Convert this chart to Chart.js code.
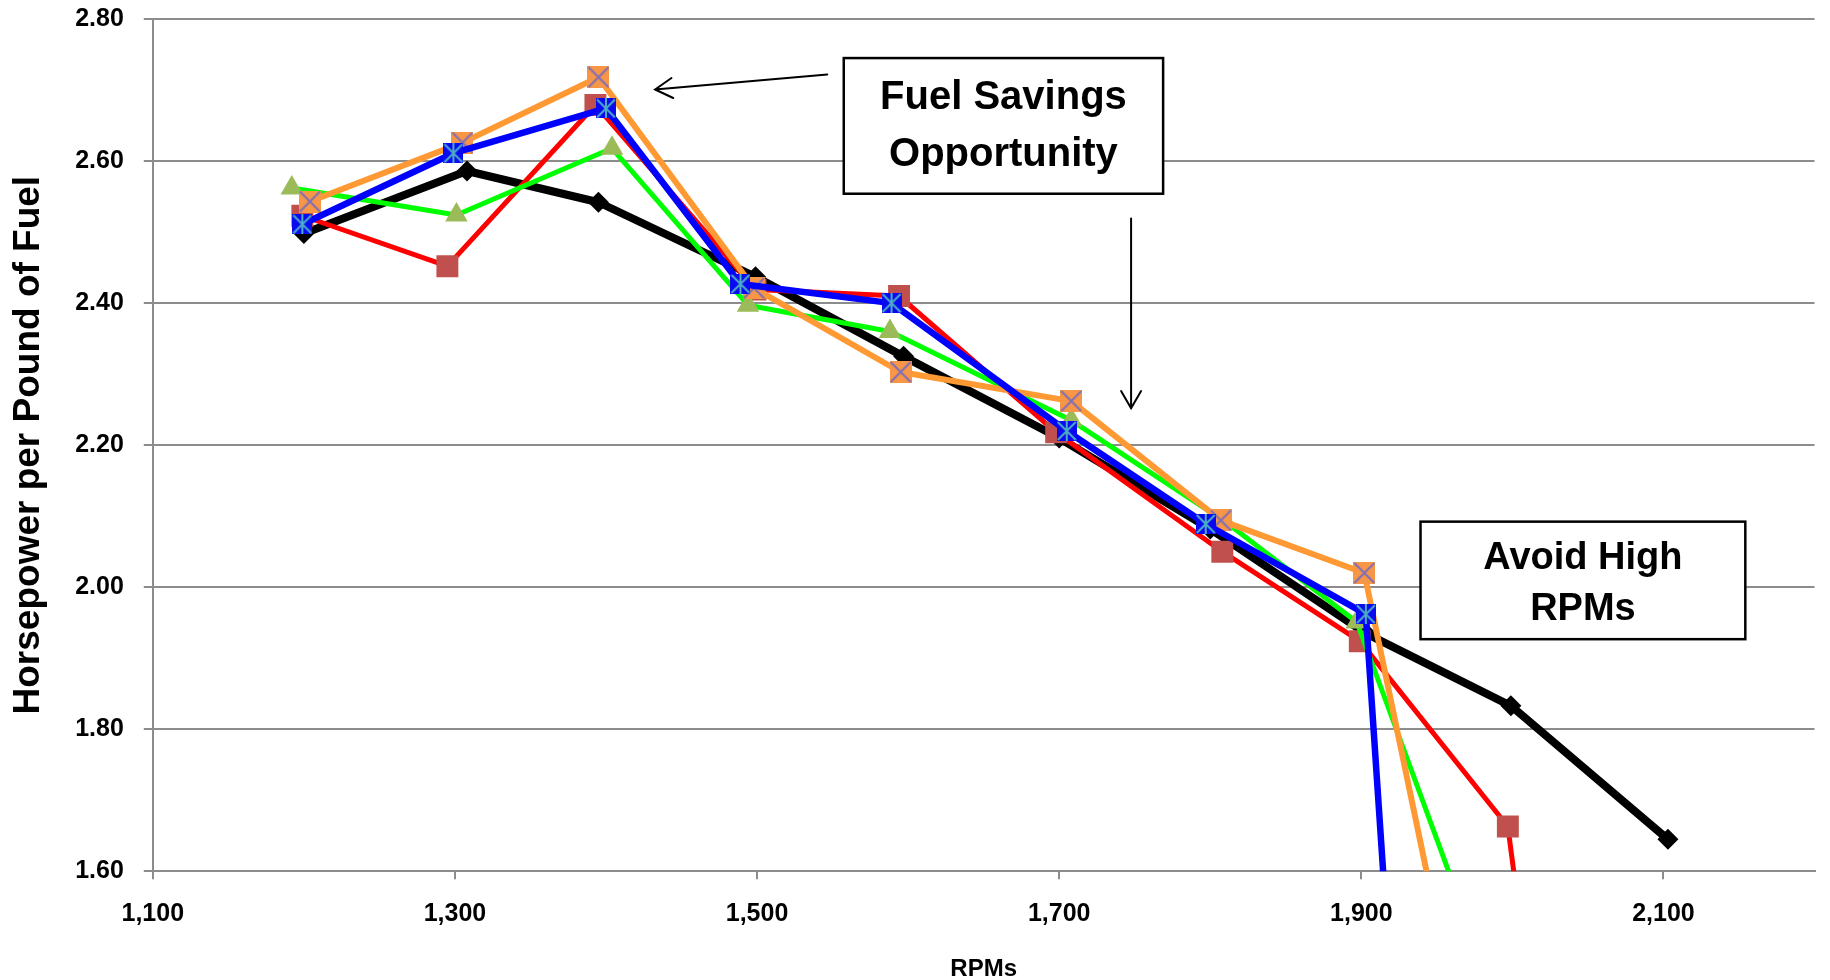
<!DOCTYPE html>
<html>
<head>
<meta charset="utf-8">
<title>Horsepower per Pound of Fuel vs RPM</title>
<script src="https://cdn.jsdelivr.net/npm/chart.js@4.4.1/dist/chart.umd.min.js"></script>
<style>
  html, body { margin: 0; padding: 0; background: #ffffff; }
  #wrap { width: 1830px; height: 980px; position: relative; }
</style>
</head>
<body>
<div id="wrap"><canvas id="chart"></canvas></div>
<script>
// Axis tick values
const rpmTicks = [1100, 1300, 1500, 1700, 1900, 2100];
const hpTicks = [1.6, 1.8, 2.0, 2.2, 2.4, 2.6, 2.8];

// Engine test runs: RPM readings and horsepower produced per pound of fuel
const blackRpm = [1200, 1308, 1395, 1499, 1597, 1700, 1800, 1903, 1999, 2103];
const blackHp  = [2.498, 2.586, 2.542, 2.437, 2.325, 2.210, 2.082, 1.935, 1.833, 1.645];

const redRpm = [1199, 1295, 1393, 1499, 1594, 1698, 1808, 1899, 1997, 2100];
const redHp  = [2.523, 2.452, 2.679, 2.419, 2.410, 2.218, 2.050, 1.924, 1.663, 0];

const greenRpm = [1192, 1301, 1404, 1494, 1588, 1708, 1810, 1897, 2235];
const greenHp  = [2.562, 2.524, 2.618, 2.397, 2.360, 2.235, 2.092, 1.951, 0];

const orangeRpm = [1204, 1305, 1395, 1498, 1595, 1708, 1807, 1902, 2100];
const orangeHp  = [2.543, 2.626, 2.718, 2.421, 2.303, 2.262, 2.094, 2.020, 0];

const blueRpm = [1199, 1299, 1400, 1489, 1589, 1705, 1797, 1903, 1965];
const blueHp  = [2.511, 2.611, 2.674, 2.427, 2.400, 2.220, 2.089, 1.962, 0];

// Callout boxes and arrows, placed in axis units
const callouts = [
  { x0: 1557.4, x1: 1768.8, y0: 2.745, y1: 2.554, size: 40,
    lines: ['Fuel Savings', 'Opportunity'], lineY: [2.689, 2.609] },
  { x0: 1939.2, x1: 2154.2, y0: 2.0923, y1: 1.9268, size: 38,
    lines: ['Avoid High', 'RPMs'], lineY: [2.0406, 1.9689] }
];
const arrows = [
  { from: [1546.5, 2.722], to: [1432.5, 2.7007] },
  { from: [1747.6, 2.519], to: [1747.6, 2.2518] }
];

const FONT = '"Liberation Sans", Arial, sans-serif';
const GRID = '#8c8c8c';

function toPoints(xs, ys) {
  return xs.map((x, i) => ({ x: x, y: ys[i] }));
}

// Square marker with crossing strokes (X, optionally with a vertical bar)
function markerCanvas(size, fill, stroke, withBar) {
  const c = document.createElement('canvas');
  c.width = size; c.height = size;
  const g = c.getContext('2d');
  g.fillStyle = fill;
  g.fillRect(0, 0, size, size);
  g.strokeStyle = stroke;
  g.lineWidth = 2;
  g.beginPath();
  g.moveTo(1, 1); g.lineTo(size - 1, size - 1);
  g.moveTo(size - 1, 1); g.lineTo(1, size - 1);
  if (withBar) { g.moveTo(size / 2, 0); g.lineTo(size / 2, size); }
  g.stroke();
  return c;
}

const xMarker = markerCanvas(22, '#F79646', '#7F6FB8', false);
const starMarker = markerCanvas(20, '#0a0af0', '#4BACC6', true);

const base = {
  showLine: true,
  tension: 0,
  borderJoinStyle: 'round',
  pointBorderWidth: 0,
  pointHoverRadius: 0,
  clip: 0
};

// Lower "order" is drawn on top
const datasets = [
  Object.assign({}, base, {
    label: 'Blue', data: toPoints(blueRpm, blueHp), order: 0,
    borderColor: '#0000FF', borderWidth: 6.5,
    pointStyle: starMarker, pointRadius: 10, pointBackgroundColor: '#0a0af0'
  }),
  Object.assign({}, base, {
    label: 'Orange', data: toPoints(orangeRpm, orangeHp), order: 1,
    borderColor: '#FF9933', borderWidth: 6,
    pointStyle: xMarker, pointRadius: 11, pointBackgroundColor: '#F79646'
  }),
  Object.assign({}, base, {
    label: 'Green', data: toPoints(greenRpm, greenHp), order: 2,
    borderColor: '#00FF00', borderWidth: 5,
    pointStyle: 'triangle', pointRadius: 13, pointBackgroundColor: '#9BBB59'
  }),
  Object.assign({}, base, {
    label: 'Red', data: toPoints(redRpm, redHp), order: 3,
    borderColor: '#FF0000', borderWidth: 5,
    pointStyle: 'rect', pointRadius: 15.5, pointBackgroundColor: '#C0504D'
  }),
  Object.assign({}, base, {
    label: 'Black', data: toPoints(blackRpm, blackHp), order: 4,
    borderColor: '#000000', borderWidth: 8,
    pointStyle: 'rectRot', pointRadius: 10.5, pointBackgroundColor: '#000000'
  })
];

// Draws the text callouts and pointer arrows
const calloutPlugin = {
  id: 'callouts',
  afterDatasetsDraw(chart) {
    const ctx = chart.ctx;
    const xs = chart.scales.x, ys = chart.scales.y;
    ctx.save();
    callouts.forEach(b => {
      const l = xs.getPixelForValue(b.x0), r = xs.getPixelForValue(b.x1);
      const t = ys.getPixelForValue(b.y0), btm = ys.getPixelForValue(b.y1);
      ctx.fillStyle = '#ffffff';
      ctx.fillRect(l, t, r - l, btm - t);
      ctx.lineWidth = 2.5;
      ctx.strokeStyle = '#000000';
      ctx.strokeRect(l, t, r - l, btm - t);
      ctx.fillStyle = '#000000';
      ctx.font = 'bold ' + b.size + 'px ' + FONT;
      ctx.textAlign = 'center';
      ctx.textBaseline = 'middle';
      b.lines.forEach((s, i) => ctx.fillText(s, (l + r) / 2, ys.getPixelForValue(b.lineY[i])));
    });
    ctx.strokeStyle = '#000000';
    ctx.lineWidth = 2;
    ctx.lineCap = 'round';
    arrows.forEach(a => {
      const x1 = xs.getPixelForValue(a.from[0]), y1 = ys.getPixelForValue(a.from[1]);
      const x2 = xs.getPixelForValue(a.to[0]), y2 = ys.getPixelForValue(a.to[1]);
      const ang = Math.atan2(y2 - y1, x2 - x1);
      const head = 20, spread = Math.PI / 6;
      ctx.beginPath();
      ctx.moveTo(x1, y1);
      ctx.lineTo(x2, y2);
      ctx.moveTo(x2 - head * Math.cos(ang - spread), y2 - head * Math.sin(ang - spread));
      ctx.lineTo(x2, y2);
      ctx.lineTo(x2 - head * Math.cos(ang + spread), y2 - head * Math.sin(ang + spread));
      ctx.stroke();
    });
    ctx.restore();
  }
};

// Fixed axis sizes; edge label overhang is not reserved
function fixX(s) {
  s.height = 108.7;
  s.paddingLeft = 0; s.paddingRight = 0; s.paddingTop = 0; s.paddingBottom = 0;
}
function fixY(s) {
  s.width = 152.8;
  s.paddingLeft = 0; s.paddingRight = 0; s.paddingTop = 0; s.paddingBottom = 0;
}

new Chart(document.getElementById('chart'), {
  type: 'scatter',
  data: { datasets: datasets },
  options: {
    responsive: true,
    maintainAspectRatio: false,
    animation: false,
    events: [],
    layout: { padding: { left: 0, top: 19, right: 9, bottom: 0 } },
    plugins: {
      legend: { display: false },
      tooltip: { enabled: false }
    },
    scales: {
      x: {
        type: 'linear',
        min: 1100,
        max: 2200,
        afterBuildTicks: s => { s.ticks = rpmTicks.map(v => ({ value: v })); },
        afterFit: fixX,
        grid: { drawOnChartArea: false, drawTicks: true, tickLength: 8, color: GRID, lineWidth: 2 },
        border: { display: true, color: GRID, width: 2 },
        ticks: {
          padding: 20,
          color: '#000000',
          font: { family: FONT, size: 25, weight: 'bold' },
          maxRotation: 0,
          autoSkip: false,
          callback: v => Number(v).toLocaleString('en-US')
        },
        title: {
          display: true,
          text: 'RPMs',
          color: '#000000',
          font: { family: FONT, size: 24, weight: 'bold', lineHeight: 0.9 },
          padding: { top: 0, bottom: 0 }
        }
      },
      y: {
        type: 'linear',
        min: 1.6,
        max: 2.8,
        afterBuildTicks: s => { s.ticks = hpTicks.map(v => ({ value: v })); },
        afterFit: fixY,
        grid: { drawOnChartArea: true, drawTicks: true, tickLength: 9, color: GRID, lineWidth: 2 },
        border: { display: true, color: GRID, width: 2 },
        ticks: {
          padding: 20,
          color: '#000000',
          font: { family: FONT, size: 25, weight: 'bold' },
          callback: v => Number(v).toFixed(2)
        },
        title: {
          display: true,
          text: 'Horsepower per Pound of Fuel',
          color: '#000000',
          font: { family: FONT, size: 37, weight: 'bold', lineHeight: 1.2 },
          padding: { top: 7, bottom: 0 }
        }
      }
    }
  },
  plugins: [calloutPlugin]
});
</script>
</body>
</html>
